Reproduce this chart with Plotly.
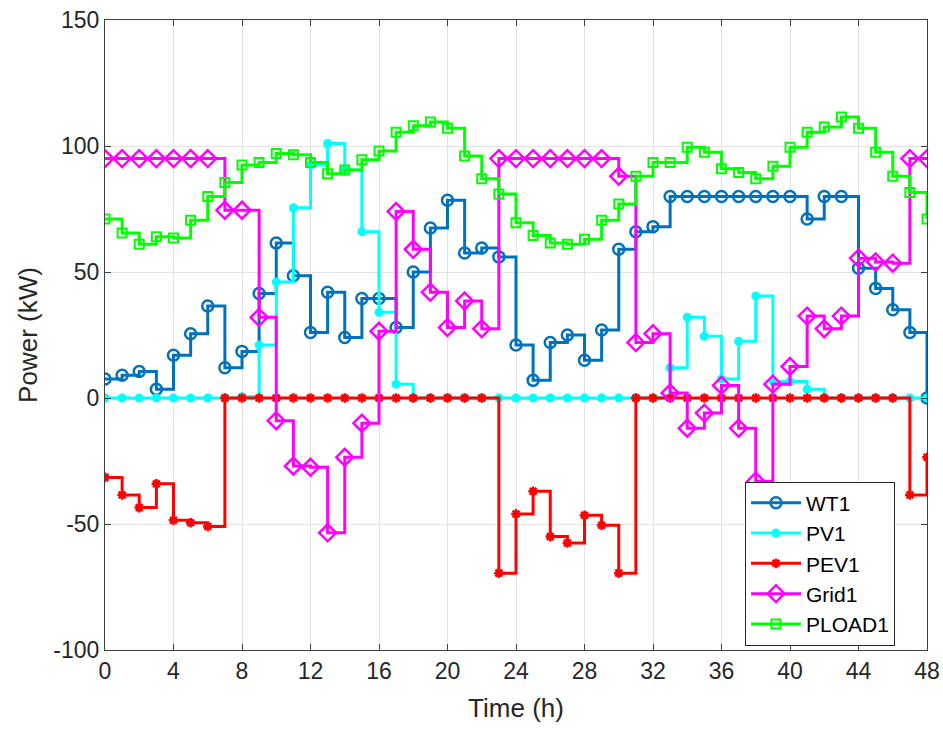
import plotly.graph_objects as go

hours = list(range(49))

wt1 = [7.5, 9, 10.5, 3.5, 17, 25.5, 36.5, 12, 18.5, 41.5, 61.5, 48.5, 26, 42, 24, 39.5, 39.5,
       28, 50, 67.5, 78.5, 57.5, 59.5, 56, 21, 7, 22, 25, 15, 27, 59, 66, 68, 80, 80, 80, 80,
       80, 80, 80, 80, 71, 80, 80, 51.5, 43.5, 35, 26, 0]
pv1 = [0, 0, 0, 0, 0, 0, 0, 0, 0.5, 21, 46, 75.5, 92.5, 101, 90.5, 66, 34, 5.5, 0, 0, 0, 0, 0,
       0, 0, 0, 0, 0, 0, 0, 0, 0, 0, 12, 32, 24.5, 7.5, 22.5, 40.5, 6.5, 6.5, 3.5, 0, 0, 0, 0,
       0, 0, 0]
pev1 = [-31.5, -38.5, -43.5, -34, -48.5, -49.5, -51, 0, 0, 0, 0, 0, 0, 0, 0, 0, 0, 0, 0, 0, 0,
        0, 0, -69.5, -46, -37, -55, -57.5, -46.5, -50.5, -69.5, 0, 0, 0, 0, 0, 0, 0, 0, 0, 0,
        0, 0, 0, 0, 0, 0, -38.5, -23.5]
grid1 = [95, 95, 95, 95, 95, 95, 95, 74.5, 74.5, 32, -9, -27, -27.5, -53.5, -23.5, -10, 26.5,
         74, 59, 42, 28, 38.5, 27.5, 95, 95, 95, 95, 95, 95, 95, 88, 22, 25.5, 2, -12, -6, 5,
         -12, -33, 5.5, 12.5, 32.5, 27.5, 32.5, 55.5, 54, 53.5, 95, 95]
pload1 = [71, 65.5, 61, 64, 63.5, 70.5, 80, 85.5, 92.5, 93.5, 97, 96.5, 93.5, 89, 90.5, 94.5,
          98, 105.5, 108, 109.5, 107, 96, 87, 81, 69.5, 64.5, 61.5, 61, 63, 70.5, 77, 88, 93.5,
          93.5, 99.5, 97.5, 91, 89.5, 87, 92, 99.5, 105.5, 107.5, 111.5, 107, 97.5, 88, 81.5, 71]

x_ticks = [0, 4, 8, 12, 16, 20, 24, 28, 32, 36, 40, 44, 48]
y_ticks = [-100, -50, 0, 50, 100, 150]
y_tick_labels = ["-100", "-50", "0", "50", "100", "150"]

series = [
    ("WT1", wt1, "#0072BD", "circle-open", 11, 2.5),
    ("PV1", pv1, "#00FFFF", "circle", 9, 0),
    ("PEV1", pev1, "#FF0000", "asterisk-open", 8, 2.5),
    ("Grid1", grid1, "#FF00FF", "diamond-open", 13, 2.5),
    ("PLOAD1", pload1, "#00FF00", "square-open", 9, 2),
]

fig = go.Figure()
for name, vals, color, sym, size, mlw in series:
    fig.add_trace(go.Scatter(
        x=hours, y=vals, name=name, mode="lines+markers",
        line=dict(color=color, width=3, shape="hv"),
        marker=dict(symbol=sym, size=size, color=color,
                    line=dict(color=color, width=mlw)),
    ))

font_family = "Liberation Sans, Arial, sans-serif"
axis_common = dict(
    showline=True, linecolor="#404040", linewidth=1, mirror="ticks",
    ticks="inside", ticklen=6, tickcolor="#404040",
    showgrid=True, gridcolor="#E3E3E3", gridwidth=1, zeroline=False,
    automargin=False,
    tickfont=dict(family=font_family, size=23, color="#262626"),
)

fig.update_layout(
    width=943, height=731,
    margin=dict(l=105, r=16, t=20, b=81),
    paper_bgcolor="white", plot_bgcolor="white",
    font=dict(family=font_family, color="#262626"),
    xaxis=dict(range=[0, 48], tickvals=x_ticks,
               title=dict(text="Time (h)", font=dict(family=font_family, size=26, color="#262626"),
                          standoff=16),
               **axis_common),
    yaxis=dict(range=[-100, 150], tickvals=y_ticks, ticktext=y_tick_labels,
               title=dict(text="Power (kW)", font=dict(family=font_family, size=26, color="#262626"),
                          standoff=8),
               **axis_common),
    legend=dict(x=0.7786, y=0.007, xanchor="left", yanchor="bottom",
                bgcolor="white", bordercolor="#262626", borderwidth=1,
                font=dict(family=font_family, size=21, color="#000000"),
                itemwidth=50, tracegroupgap=0),
    showlegend=True,
)

fig.write_html("out.html", config={"displayModeBar": False},
               post_script="document.body.style.margin='0px';")
